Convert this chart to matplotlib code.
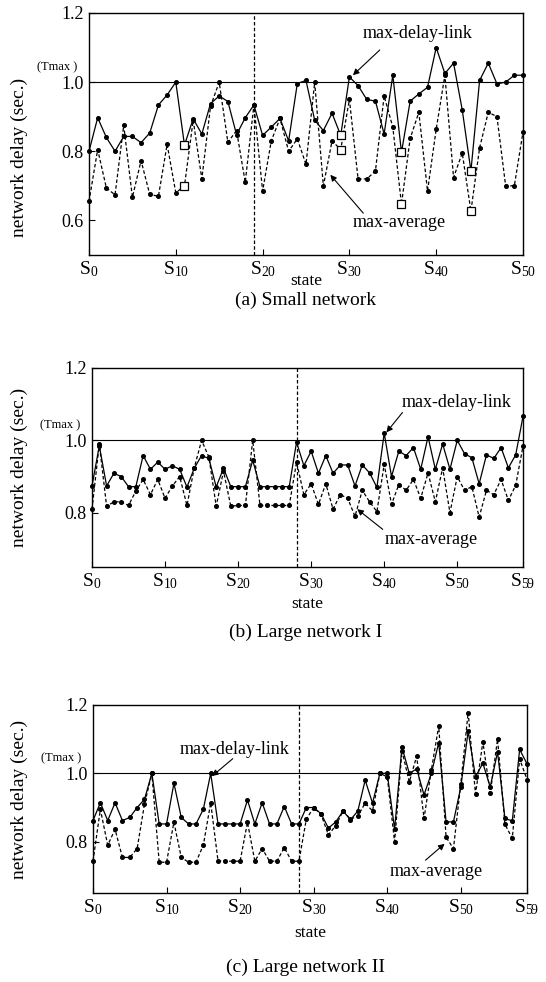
import matplotlib
matplotlib.use("Agg")
import matplotlib.pyplot as plt
import numpy as np

plt.rcParams['font.family'] = ['Liberation Serif', 'DejaVu Serif']
plt.rcParams['mathtext.fontset'] = 'custom'
plt.rcParams['mathtext.rm'] = 'Liberation Serif'
plt.rcParams['mathtext.it'] = 'Liberation Serif:italic'

# ---------------- data ----------------
# (a) Small network, states S0..S50
a_link = [0.80, 0.897, 0.84, 0.80, 0.843, 0.843, 0.825, 0.853, 0.934, 0.963,
          1.0, 0.818, 0.894, 0.85, 0.938, 0.96, 0.944, 0.848, 0.897, 0.934,
          0.846, 0.87, 0.895, 0.83, 0.996, 1.005, 0.89, 0.86, 0.91, 0.846,
          1.015, 0.99, 0.95, 0.945, 0.85, 1.02, 0.797, 0.945, 0.966, 0.985,
          1.10, 1.025, 1.055, 0.92, 0.743, 1.005, 1.055, 0.995, 1.0, 1.02, 1.02]
a_avg = [0.655, 0.805, 0.694, 0.674, 0.875, 0.667, 0.773, 0.675, 0.67, 0.82,
         0.68, 0.70, 0.89, 0.72, 0.93, 1.0, 0.826, 0.86, 0.71, 0.934,
         0.685, 0.83, 0.895, 0.80, 0.836, 0.762, 1.0, 0.70, 0.83, 0.805,
         0.95, 0.72, 0.72, 0.743, 0.96, 0.87, 0.647, 0.837, 0.913, 0.685,
         0.864, 1.02, 0.724, 0.795, 0.627, 0.81, 0.913, 0.90, 0.70, 0.70, 0.856]
a_square_states = [11, 29, 36, 44]
a_vline = 19

# (b) Large network I, states S0..S59
b_link = [0.874, 0.985, 0.874, 0.909, 0.90, 0.872, 0.872, 0.958, 0.92, 0.94,
          0.92, 0.93, 0.92, 0.871, 0.923, 0.958, 0.95, 0.871, 0.923, 0.872,
          0.872, 0.872, 0.945, 0.872, 0.872, 0.872, 0.872, 0.872, 0.995, 0.93,
          0.97, 0.909, 0.958, 0.909, 0.932, 0.932, 0.874, 0.932, 0.91, 0.87,
          1.02, 0.90, 0.97, 0.958, 0.98, 0.92, 1.01, 0.92, 0.99, 0.92,
          1.0, 0.963, 0.952, 0.88, 0.96, 0.95, 0.98, 0.924, 0.96, 1.066]
b_avg = [0.81, 0.99, 0.818, 0.83, 0.83, 0.82, 0.86, 0.892, 0.85, 0.892,
         0.84, 0.874, 0.90, 0.82, 0.924, 1.0, 0.954, 0.818, 0.915, 0.818,
         0.82, 0.82, 1.0, 0.82, 0.82, 0.82, 0.82, 0.82, 0.94, 0.85,
         0.88, 0.823, 0.88, 0.81, 0.85, 0.84, 0.79, 0.862, 0.83, 0.803,
         0.934, 0.823, 0.878, 0.862, 0.892, 0.84, 0.91, 0.83, 0.924, 0.80,
         0.90, 0.862, 0.872, 0.788, 0.862, 0.85, 0.892, 0.834, 0.876, 0.984]
b_vline = 28

# (c) Large network II, states S0..S59
c_link = [0.862, 0.914, 0.862, 0.914, 0.862, 0.871, 0.90, 0.924, 1.0, 0.852,
          0.852, 0.971, 0.871, 0.852, 0.852, 0.895, 1.0, 0.852, 0.852, 0.852,
          0.852, 0.922, 0.852, 0.914, 0.852, 0.852, 0.903, 0.852, 0.852, 0.90,
          0.90, 0.882, 0.84, 0.858, 0.89, 0.864, 0.89, 0.98, 0.913, 1.0,
          1.0, 0.837, 1.077, 1.0, 1.013, 0.937, 1.0, 1.09, 0.858, 0.858,
          0.96, 1.123, 0.99, 1.03, 0.96, 1.063, 0.868, 0.861, 1.07, 1.028]
c_avg = [0.743, 0.895, 0.79, 0.836, 0.754, 0.754, 0.78, 0.91, 1.0, 0.74,
         0.74, 0.857, 0.754, 0.74, 0.74, 0.79, 0.914, 0.743, 0.743, 0.743,
         0.743, 0.857, 0.743, 0.78, 0.743, 0.743, 0.783, 0.743, 0.743, 0.866,
         0.90, 0.88, 0.82, 0.847, 0.89, 0.866, 0.875, 0.913, 0.89, 1.0,
         0.99, 0.80, 1.066, 0.975, 1.05, 0.868, 1.01, 1.139, 0.813, 0.78,
         0.97, 1.178, 0.94, 1.092, 0.942, 1.10, 0.851, 0.81, 1.042, 0.982]
c_vline = 28

T_MAX = 1.0
a_xticks = [0, 10, 20, 30, 40, 50]
b_xticks = [0, 10, 20, 30, 40, 50, 59]
captions = ["(a) Small network", "(b) Large network I", "(c) Large network II"]

# ---------------- figure ----------------
W, H = 546, 982
fig = plt.figure(figsize=(W / 100, H / 100), dpi=100)


def ax_rect(l, t, r, b):
    return [l / W, 1 - b / H, (r - l) / W, (b - t) / H]


axes = [fig.add_axes(ax_rect(89, 13, 523, 255)),
        fig.add_axes(ax_rect(92, 368, 523, 567)),
        fig.add_axes(ax_rect(93, 705, 527, 893))]

panels = [
    (a_link, a_avg, a_vline, (0, 50), (0.5, 1.2), [0.6, 0.8, 1.0, 1.2], a_xticks),
    (b_link, b_avg, b_vline, (0, 59), (0.65, 1.2), [0.8, 1.0, 1.2], b_xticks),
    (c_link, c_avg, c_vline, (0, 59), (0.65, 1.2), [0.8, 1.0, 1.2], b_xticks),
]

lw = 0.9
for i, (ax, (link, avg, vline, xl, yl, yt, xt)) in enumerate(zip(axes, panels)):
    x = np.arange(len(link))
    ax.plot(x, link, '-', color='black', lw=lw, marker='o', ms=2.6, clip_on=False, zorder=3)
    ax.plot(x, avg, color='black', lw=lw, ls=(0, (2.8, 1.8)), marker='o', ms=2.6,
            clip_on=False, zorder=3)
    ax.axhline(T_MAX, color='black', lw=0.8, zorder=2)
    ax.axvline(vline, color='black', lw=0.9, ls=(0, (2.8, 1.8)), zorder=2)
    ax.set_xlim(*xl)
    ax.set_ylim(*yl)
    ax.set_yticks(yt)
    ax.set_yticklabels([f"{v:.1f}" for v in yt], fontsize=13)
    ax.set_xticks(xt)
    ax.set_xticklabels([r"S$_{\mathrm{%d}}$" % v for v in xt], fontsize=14)
    ax.tick_params(direction='in', length=4, width=0.8, top=False, right=False, pad=4)
    ax.tick_params(axis='x', pad=3)
    for sp in ax.spines.values():
        sp.set_linewidth(1.0)
    ax.set_ylabel("network delay (sec.)", fontsize=14)
    ax.set_xlabel("state", fontsize=12.5, va='center')
    # (Tmax) label next to the 1.0 tick
    ax.annotate("(Tmax )", xy=(0, T_MAX), xycoords=('axes fraction', 'data'),
                xytext=(-12, 15), textcoords='offset pixels', ha='right', va='center',
                fontsize=9)

# label positions
axes[0].yaxis.set_label_coords(-0.14, 0.405)
axes[1].yaxis.set_label_coords(-0.148, 0.5)
axes[2].yaxis.set_label_coords(-0.15, 0.5)
axes[0].xaxis.set_label_coords(0.5, (255 - 281) / 242)
axes[1].xaxis.set_label_coords(0.5, (567 - 604) / 199)
axes[2].xaxis.set_label_coords(0.5, (893 - 933) / 188)

# squares in panel (a)
axa = axes[0]
axa.plot(a_square_states, [a_link[s] for s in a_square_states], 's', mfc='white',
         mec='black', ms=6, mew=0.9, zorder=4)
axa.plot(a_square_states, [a_avg[s] for s in a_square_states], 's', mfc='white',
         mec='black', ms=6, mew=0.9, zorder=4)

arrow = dict(arrowstyle='-|>', color='black', lw=0.8, mutation_scale=9, shrinkA=0, shrinkB=0)
fs_ann = 13

# panel (a) annotations
axa.text(37.9, 1.142, "max-delay-link", ha='center', va='center', fontsize=fs_ann)
axa.annotate("", xy=(30.4, 1.02), xytext=(33.5, 1.093), arrowprops=arrow)
axa.text(35.7, 0.595, "max-average", ha='center', va='center', fontsize=fs_ann)
axa.annotate("", xy=(27.8, 0.732), xytext=(31.6, 0.621), arrowprops=arrow)

# panel (b)
axb = axes[1]
axb.text(49.9, 1.105, "max-delay-link", ha='center', va='center', fontsize=fs_ann)
axb.annotate("", xy=(40.3, 1.022), xytext=(42.5, 1.077), arrowprops=arrow)
axb.text(46.5, 0.726, "max-average", ha='center', va='center', fontsize=fs_ann)
axb.annotate("", xy=(36.3, 0.81), xytext=(39.8, 0.754), arrowprops=arrow)

# panel (c)
axc = axes[2]
axc.text(19.2, 1.071, "max-delay-link", ha='center', va='center', fontsize=fs_ann)
axc.annotate("", xy=(16.2, 0.992), xytext=(19.0, 1.043), arrowprops=arrow)
axc.text(46.7, 0.714, "max-average", ha='center', va='center', fontsize=fs_ann)
axc.annotate("", xy=(47.8, 0.794), xytext=(45.2, 0.746), arrowprops=arrow)

# captions
for cap, ypx in zip(captions, [300, 632, 967]):
    fig.text(306 / W, 1 - ypx / H, cap, ha='center', va='center', fontsize=14)

fig.savefig("out.png", dpi=100)
